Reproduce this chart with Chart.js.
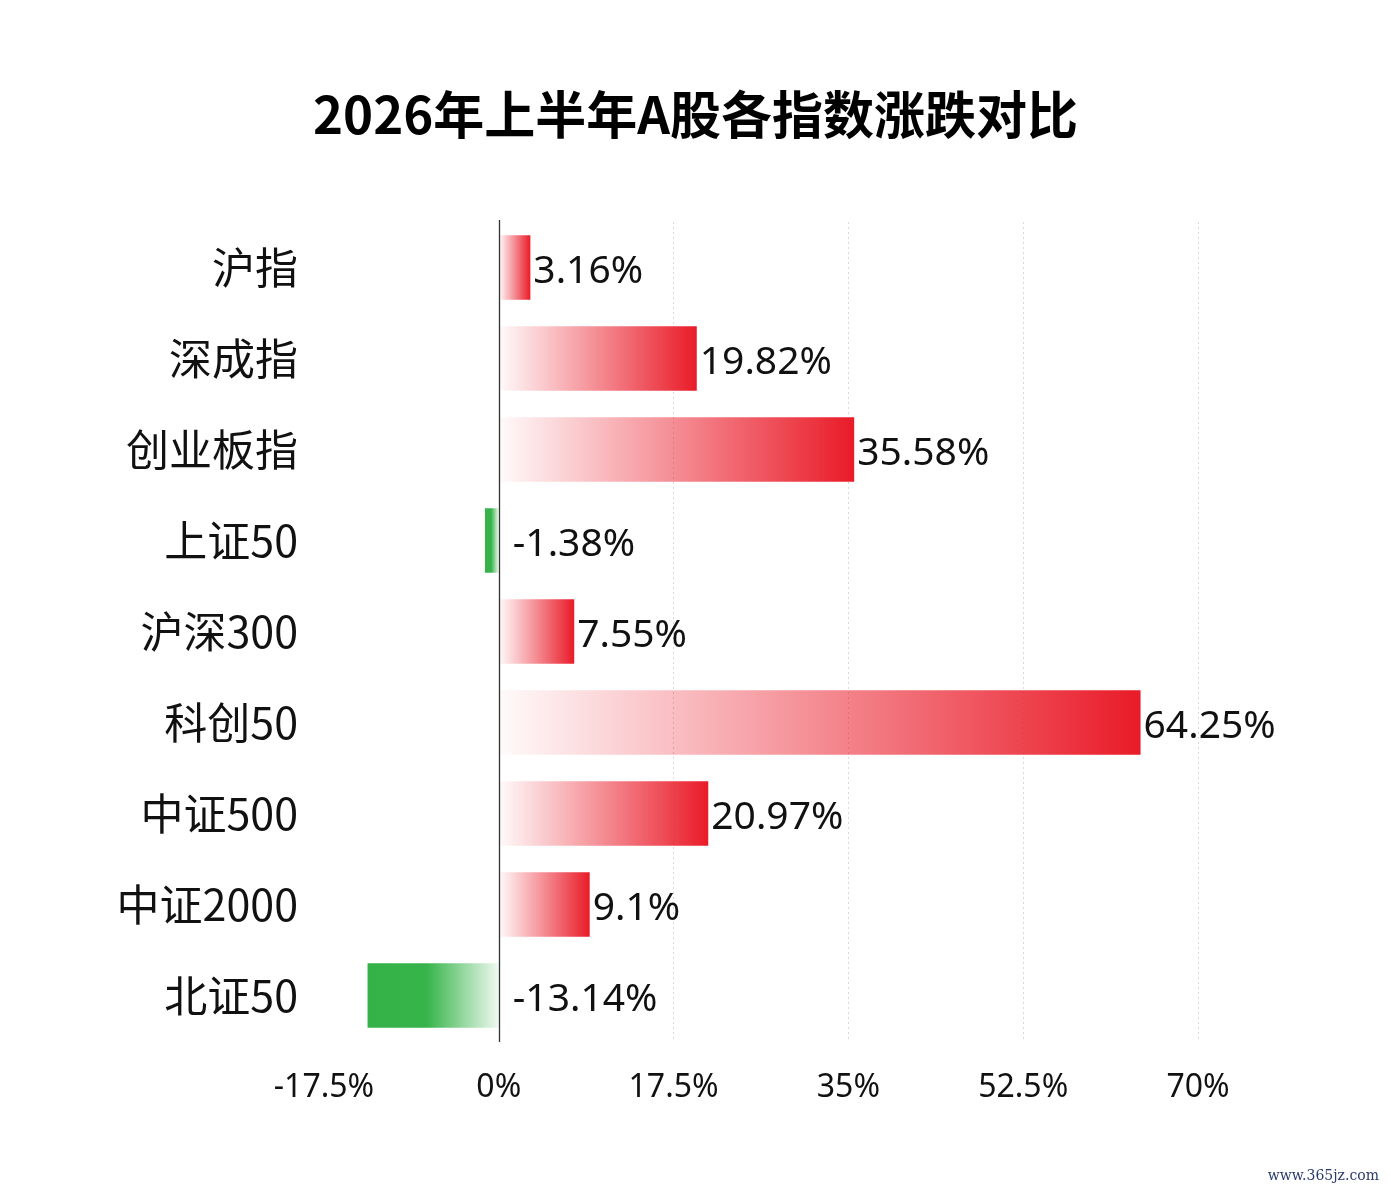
<!DOCTYPE html>
<html>
<head>
<meta charset="utf-8">
<script src="https://cdn.jsdelivr.net/npm/chart.js@4.4.1/dist/chart.umd.min.js"></script>
<style>
  html, body { margin: 0; padding: 0; background: #fff; }
  #wrap { position: relative; width: 1391px; height: 1191px; }
  #title {
    position: absolute; left: 0; top: 80px; width: 1391px; height: 64px;
    line-height: 64px; text-align: center;
    font-family: "Noto Sans CJK SC", sans-serif; font-weight: bold;
    font-size: 51px; color: #000;
  }
  #site {
    position: absolute; right: 12px; bottom: 8px;
    font-family: "DejaVu Serif", "Liberation Serif", serif;
    font-size: 14px; color: #2b3a6e;
  }
</style>
</head>
<body>
<div id="wrap">
  <canvas id="chart" width="1391" height="1191"></canvas>
  <div id="title"></div>
  <div id="site">www.365jz.com</div>
</div>
<script>
const titleText = '2026年上半年A股各指数涨跌对比';
const categories = ['沪指', '深成指', '创业板指', '上证50', '沪深300', '科创50', '中证500', '中证2000', '北证50'];
const changes = [3.16, 19.82, 35.58, -1.38, 7.55, 64.25, 20.97, 9.1, -13.14];
const tickValues = [-17.5, 0, 17.5, 35, 52.5, 70];

const numFont = '"Noto Sans", "Noto Sans CJK SC", sans-serif';

document.getElementById('title').textContent = titleText;

// per-bar gradient, light near zero, solid at the bar end
function barFill(ctx) {
  const chart = ctx.chart;
  const x = chart.scales.x;
  const v = ctx.raw;
  if (!x || v === undefined || !chart.chartArea) return v < 0 ? '#36b34a' : '#e81e2c';
  const x0 = x.getPixelForValue(0);
  const x1 = x.getPixelForValue(v);
  const g = chart.ctx.createLinearGradient(x0, 0, x1, 0);
  if (v >= 0) {
    g.addColorStop(0, 'rgba(235, 30, 45, 0.02)');
    g.addColorStop(1, 'rgba(233, 27, 40, 1)');
  } else {
    g.addColorStop(0, 'rgba(54, 180, 74, 0.08)');
    g.addColorStop(0.55, 'rgba(54, 180, 74, 1)');
    g.addColorStop(1, 'rgba(52, 178, 72, 1)');
  }
  return g;
}

const zeroLine = {
  id: 'zeroLine',
  afterDatasetsDraw(chart) {
    const { ctx, chartArea, scales } = chart;
    const px = Math.round(scales.x.getPixelForValue(0)) + 0.5;
    ctx.save();
    ctx.strokeStyle = '#333';
    ctx.lineWidth = 1.3;
    ctx.beginPath();
    ctx.moveTo(px, chartArea.top - 2);
    ctx.lineTo(px, chartArea.bottom + 1);
    ctx.stroke();
    ctx.restore();
  }
};

const valueLabels = {
  id: 'valueLabels',
  afterDatasetsDraw(chart) {
    const { ctx, scales } = chart;
    const meta = chart.getDatasetMeta(0);
    const zero = scales.x.getPixelForValue(0);
    ctx.save();
    ctx.font = '39px ' + numFont;
    ctx.fillStyle = '#111';
    ctx.textAlign = 'left';
    ctx.textBaseline = 'middle';
    meta.data.forEach((bar, i) => {
      const v = changes[i];
      const x = v >= 0 ? bar.x + 3 : zero + 14;
      ctx.fillText(v + '%', x, bar.y + 4);
    });
    ctx.restore();
  }
};

new Chart(document.getElementById('chart'), {
  type: 'bar',
  data: {
    labels: categories,
    datasets: [{
      data: changes,
      backgroundColor: barFill,
      borderWidth: 0,
      categoryPercentage: 1,
      barPercentage: 0.71
    }]
  },
  options: {
    indexAxis: 'y',
    responsive: false,
    animation: false,
    layout: { padding: { left: 0, right: 193, top: 222, bottom: 0 } },
    plugins: {
      legend: { display: false },
      tooltip: { enabled: false },
      title: { display: false }
    },
    scales: {
      x: {
        min: -17.5,
        max: 70,
        afterBuildTicks(scale) {
          scale.ticks = tickValues.map(v => ({ value: v }));
        },
        afterFit(scale) { scale.height = 150; },
        grid: {
          drawTicks: false,
          color: ctx => (ctx.tick && ctx.tick.value > 0) ? '#d9d9d9' : 'rgba(0,0,0,0)',
          lineWidth: 1
        },
        border: { display: false, dash: [2, 3] },
        ticks: {
          padding: 28,
          color: '#111',
          font: { family: numFont, size: 32 },
          callback: v => v + '%'
        }
      },
      y: {
        afterFit(scale) { scale.width = 324; },
        grid: { display: false, drawTicks: false },
        border: { display: false },
        ticks: {
          padding: 26,
          color: '#111',
          font: { family: '"Noto Sans CJK SC", "Noto Sans", sans-serif', size: 43 }
        }
      }
    }
  },
  plugins: [zeroLine, valueLabels]
});
</script>
</body>
</html>
